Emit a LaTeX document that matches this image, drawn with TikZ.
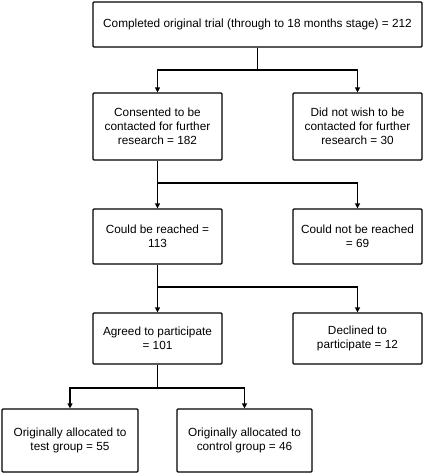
\documentclass[tikz,border=0pt]{standalone}
\usepackage{fontspec}
\setmainfont{Liberation Sans}
\usetikzlibrary{arrows.meta}
\begin{document}
\begin{tikzpicture}[x=1pt,y=-1pt,
  box/.style={draw,line width=1.2pt,rounded corners=1pt,align=center,inner sep=0pt,
    font=\fontsize{11.8}{14.2}\selectfont},
  conn/.style={line width=1.2pt},
  arr/.style={line width=1.2pt,-{Triangle[length=5pt,width=5pt]}}]
\useasboundingbox (0,0) rectangle (425,474);
\node[box,minimum width=329pt,minimum height=45pt] (top) at (257.5,24.5) {Completed original trial (through to 18 months stage) = 212};
\node[box,minimum width=129pt,minimum height=67pt] (cons) at (157.5,126.5) {Consented to be\\contacted for further\\research = 182};
\node[box,minimum width=129pt,minimum height=67pt] (nowish) at (357.5,126.5) {Did not wish to be\\contacted for further\\research = 30};
\node[box,minimum width=129pt,minimum height=55pt] (reach) at (157.5,236.5) {Could be reached =\\113};
\node[box,minimum width=129pt,minimum height=55pt] (noreach) at (357.5,236.5) {Could not be reached\\= 69};
\node[box,minimum width=129pt,minimum height=51pt] (agree) at (157.5,338.5) {Agreed to participate\\= 101};
\node[box,minimum width=129pt,minimum height=51pt] (decl) at (357.5,338.5) {Declined to\\participate = 12};
\node[box,minimum width=136pt,minimum height=63pt] (test) at (70,440.5) {Originally allocated to\\test group = 55};
\node[box,minimum width=135pt,minimum height=63pt] (ctrl) at (244.5,440.5) {Originally allocated to\\control group = 46};
\coordinate (j1) at (top.south |- 0,70);
\coordinate (j2) at (cons.south |- 0,183);
\coordinate (j3) at (reach.south |- 0,287);
\coordinate (j4) at (agree.south |- 0,388);
\draw[conn] (top.south) -- (j1);
\draw[arr] (j1) -| (cons.north);
\draw[arr] (j1) -| (nowish.north);
\draw[arr] (cons.south) -- (reach.north);
\draw[arr] (j2) -| (noreach.north);
\draw[arr] (reach.south) -- (agree.north);
\draw[arr] (j3) -| (decl.north);
\draw[conn] (agree.south) -- (j4);
\draw[arr] (j4) -| (test.north);
\draw[arr] (j4) -| (ctrl.north);
\end{tikzpicture}
\end{document}
